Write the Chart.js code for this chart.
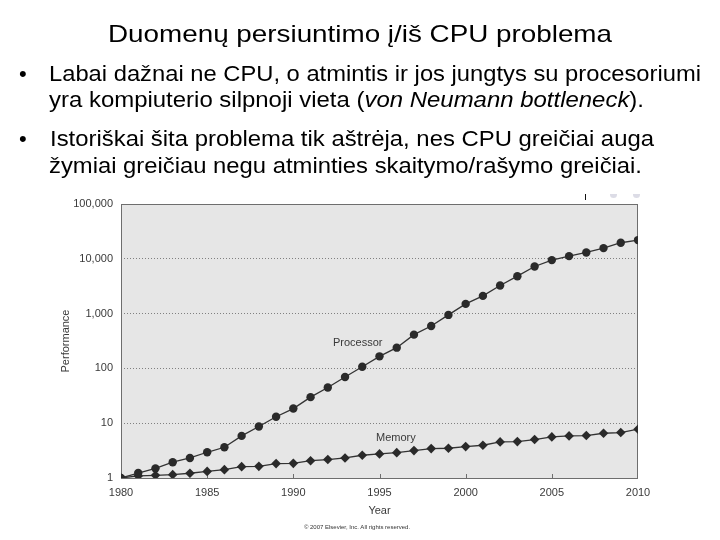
<!DOCTYPE html>
<html>
<head>
<meta charset="utf-8">
<script src="https://cdn.jsdelivr.net/npm/chart.js@4/dist/chart.umd.min.js"></script>
<style>
  html, body { margin: 0; padding: 0; background: #fff; }
  #wrap { position: relative; width: 720px; height: 540px; overflow: hidden; font-family: "Liberation Sans", Arial, sans-serif; }
  #c { position: absolute; left: 0; top: 0; }
  .ln { position: absolute; white-space: nowrap; line-height: 1; color: #000; transform-origin: 0 0; }
  .ln span { display: inline-block; }
  .lbl { position: absolute; white-space: nowrap; font-size: 11px; line-height: 1; color: #3a3a3a; }
</style>
</head>
<body>
<div id="wrap">
  <canvas id="c" width="720" height="540"></canvas>
  <div class="ln" id="t0" style="left:108px; top:22px; font-size:24px;"><span>Duomenų persiuntimo į/iš CPU problema</span></div>
  <div class="ln" style="left:19px; top:63px; font-size:22px;">•</div>
  <div class="ln" id="t1" style="left:49px; top:63px; font-size:22px;"><span>Labai dažnai ne CPU, o atmintis ir jos jungtys su procesoriumi</span></div>
  <div class="ln" id="t2" style="left:49px; top:89px; font-size:22px;"><span>yra kompiuterio silpnoji vieta (<i>von Neumann bottleneck</i>).</span></div>
  <div class="ln" style="left:19px; top:128px; font-size:22px;">•</div>
  <div class="ln" id="t3" style="left:50px; top:128px; font-size:22px;"><span>Istoriškai šita problema tik aštrėja, nes CPU greičiai auga</span></div>
  <div class="ln" id="t4" style="left:49px; top:155px; font-size:22px;"><span>žymiai greičiau negu atminties skaitymo/rašymo greičiai.</span></div>
  <div class="lbl" style="left:333px; top:337px;">Processor</div>
  <div class="lbl" style="left:376px; top:432px;">Memory</div>
  <div class="lbl" style="left:300px; top:524px; width:114px; text-align:center; font-size:6px; color:#333;">© 2007 Elsevier, Inc. All rights reserved.</div>
  <div style="position:absolute; left:585px; top:194px; width:1px; height:6px; background:#111;"></div>
  <div style="position:absolute; left:610px; top:194px; width:7px; height:4px; border-radius:0 0 4px 4px; background:#dcdce6;"></div>
  <div style="position:absolute; left:633px; top:194px; width:7px; height:4px; border-radius:0 0 4px 4px; background:#dcdce6;"></div>
</div>
<script>
// ---- data ----
const years = [1980,1981,1982,1983,1984,1985,1986,1987,1988,1989,1990,1991,1992,1993,1994,1995,1996,1997,1998,1999,2000,2001,2002,2003,2004,2005,2006,2007,2008,2009,2010];
const processor = [1,1.23,1.5,1.94,2.32,2.95,3.64,5.87,8.7,13.1,18.5,29.9,44.9,69.5,107,166,239,413,595,946,1503,2104,3252,4818,7244,9460,11200,13060,15670,19630,21950];
const memory = [1,1.09,1.12,1.15,1.22,1.32,1.42,1.61,1.63,1.83,1.85,2.07,2.17,2.32,2.6,2.75,2.9,3.16,3.44,3.49,3.74,3.96,4.56,4.62,5.03,5.62,5.87,5.95,6.56,6.75,7.77];
const xTicks = [1980,1985,1990,1995,2000,2005,2010];
const yTicks = [1,10,100,1000,10000,100000];
const yTickLabels = ["1","10","100","1,000","10,000","100,000"];

// ---- text line stretching (layout only) ----
const targets = {t0:504, t1:652, t2:595, t3:604, t4:593};
function stretch(){
  for (const id in targets){
    const el = document.getElementById(id);
    el.style.transform = 'none';
    const w = el.firstElementChild.getBoundingClientRect().width;
    el.style.transform = 'scaleX(' + (targets[id]/w) + ')';
  }
}
stretch();
if (document.fonts && document.fonts.ready) document.fonts.ready.then(stretch);

// ---- chart ----
Chart.defaults.font.family = '"Liberation Sans", Arial, sans-serif';
Chart.defaults.font.size = 11;
Chart.defaults.color = '#3a3a3a';

const framePlugin = {
  id: 'frame',
  beforeDraw(chart){
    const {ctx, chartArea: a} = chart;
    ctx.save();
    ctx.fillStyle = '#e6e6e6';
    ctx.fillRect(a.left, a.top, a.right - a.left, a.bottom - a.top);
    ctx.restore();
  },
  beforeDatasetsDraw(chart){
    const {ctx, chartArea: a, scales} = chart;
    ctx.save();
    ctx.strokeStyle = '#6e6e6e';
    ctx.lineWidth = 1;
    ctx.strokeRect(a.left + 0.5, a.top + 0.5, a.right - a.left - 1, a.bottom - a.top);
    ctx.beginPath();
    xTicks.slice(1, -1).forEach(v => {
      const x = Math.round(scales.x.getPixelForValue(v)) + 0.5;
      ctx.moveTo(x, a.bottom);
      ctx.lineTo(x, a.bottom - 4);
    });
    ctx.stroke();
    ctx.restore();
  }
};

new Chart(document.getElementById('c'), {
  type: 'line',
  data: {
    datasets: [
      {
        label: 'Processor',
        data: years.map((y, i) => ({x: y, y: processor[i]})),
        borderColor: '#333333',
        borderWidth: 1.3,
        pointStyle: 'circle',
        pointRadius: 4.2,
        pointBackgroundColor: '#2a2a2a',
        pointBorderColor: '#2a2a2a',
        pointBorderWidth: 0,
        tension: 0
      },
      {
        label: 'Memory',
        data: years.map((y, i) => ({x: y, y: memory[i]})),
        borderColor: '#333333',
        borderWidth: 1.3,
        pointStyle: 'rectRot',
        pointRadius: 4.8,
        pointBackgroundColor: '#2a2a2a',
        pointBorderColor: '#2a2a2a',
        pointBorderWidth: 0,
        tension: 0
      }
    ]
  },
  options: {
    responsive: false,
    animation: false,
    devicePixelRatio: 1,
    layout: { padding: { left: 0, top: 204, right: 82, bottom: 0 } },
    plugins: { legend: { display: false }, tooltip: { enabled: false } },
    scales: {
      x: {
        type: 'linear',
        min: 1980, max: 2010,
        afterFit(s){ s.height = 62; },
        afterBuildTicks(s){ s.ticks = xTicks.map(v => ({value: v})); },
        ticks: { padding: 8, autoSkip: false, maxRotation: 0, callback: v => String(v), color: '#3a3a3a' },
        grid: { display: false, drawTicks: false },
        border: { display: false },
        title: { display: true, text: 'Year', padding: { top: 0, bottom: 22 }, color: '#3a3a3a', font: { size: 11 } }
      },
      y: {
        type: 'logarithmic',
        min: 1, max: 100000,
        afterFit(s){ s.width = 121; },
        afterBuildTicks(s){ s.ticks = yTicks.map(v => ({value: v})); },
        ticks: { padding: 8, autoSkip: false, color: '#3a3a3a',
          callback: (v) => yTickLabels[yTicks.indexOf(v)] },
        grid: { color: '#808080', lineWidth: 1, drawTicks: false },
        border: { display: false, dash: [1, 2] },
        title: { display: true, text: 'Performance', padding: { top: 59, bottom: 0 }, color: '#3a3a3a', font: { size: 11 } }
      }
    }
  },
  plugins: [framePlugin]
});
</script>
</body>
</html>
